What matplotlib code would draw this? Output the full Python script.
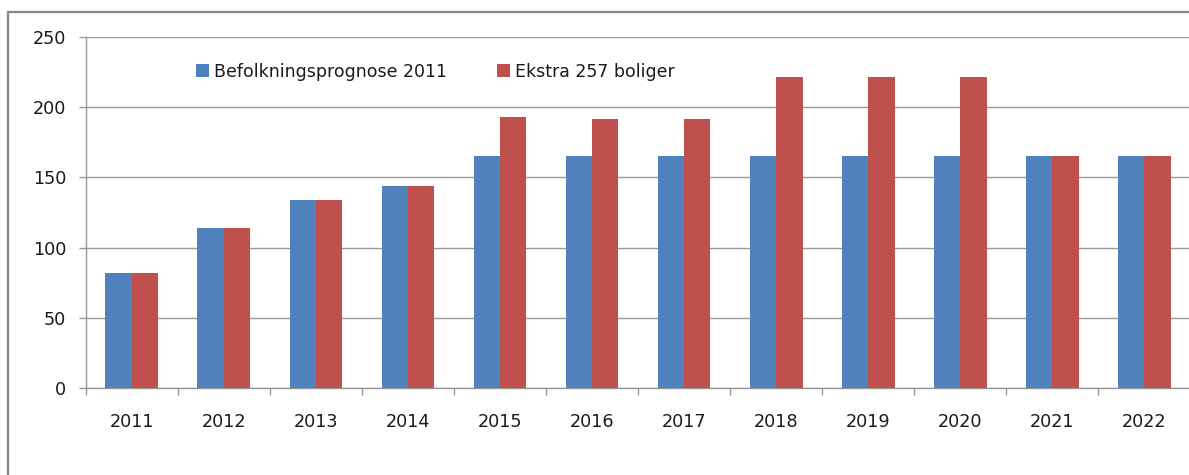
import matplotlib
matplotlib.use("Agg")
import matplotlib.pyplot as plt
from matplotlib.patches import Rectangle, Patch
import numpy as np

years = ["2011", "2012", "2013", "2014", "2015", "2016", "2017", "2018", "2019", "2020", "2021", "2022"]
befolkning = [82, 114, 134, 144, 165, 165, 165, 165, 165, 165, 165, 165]
ekstra = [82, 114, 134, 144, 193, 191.5, 192, 221.5, 222, 222, 165, 165]
series_names = ["Befolkningsprognose 2011", "Ekstra 257 boliger"]
yticks = [0, 50, 100, 150, 200, 250]

BLUE = "#4F81BD"
RED = "#C0504D"
GRID = "#989898"
TEXT = "#1a1a1a"

W, H = 1189, 475
fig = plt.figure(figsize=(W / 100, H / 100), dpi=100)
fig.patch.set_facecolor("white")

# outer chart border
fig.add_artist(Rectangle((7.7 / W, -0.1), 1.2, 1 - 12.3 / H + 0.1,
                         transform=fig.transFigure, fill=False,
                         edgecolor="#878787", linewidth=1.6))

left, right = 85.7 / W, 1190.5 / W
bottom, top = 1 - 387.7 / H, 1 - 37.3 / H
ax = fig.add_axes([left, bottom, right - left, top - bottom])

x = np.arange(len(years))
bw = 0.286
ax.bar(x - bw / 2, befolkning, width=bw, color=BLUE, zorder=3)
ax.bar(x + bw / 2, ekstra, width=bw, color=RED, zorder=3)

ax.set_xlim(-0.5, len(years) - 0.5)
ax.set_ylim(0, 250)
ax.set_yticks(yticks)
ax.set_yticklabels([str(v) for v in yticks])
ax.set_xticks(x)
ax.set_xticklabels(years)
ax.set_xticks(np.arange(len(years) + 1) - 0.5, minor=True)

ax.yaxis.grid(True, color=GRID, linewidth=1.0, zorder=0)
ax.set_axisbelow(True)

for s in ["top", "right"]:
    ax.spines[s].set_visible(False)
for s in ["left", "bottom"]:
    ax.spines[s].set_color(GRID)
    ax.spines[s].set_linewidth(1.0)

ax.tick_params(axis="y", length=5, width=1, color=GRID, pad=9,
               labelsize=12.7, labelcolor=TEXT)
ax.tick_params(axis="x", which="major", length=0, pad=18,
               labelsize=12.7, labelcolor=TEXT)
ax.tick_params(axis="x", which="minor", length=5, width=1, color=GRID,
               direction="out")

handles = [Patch(facecolor=BLUE, edgecolor="none"), Patch(facecolor=RED, edgecolor="none")]
fig.legend(handles, series_names, loc="center left",
           bbox_to_anchor=(196 / W, 1 - 71.7 / H), bbox_transform=fig.transFigure,
           ncol=2, frameon=False, fontsize=12.5, handlelength=0.72,
           handleheight=0.72, handletextpad=0.31, columnspacing=2.9,
           borderpad=0, borderaxespad=0, labelcolor=TEXT)

fig.savefig("out.png", dpi=100, facecolor="white")
